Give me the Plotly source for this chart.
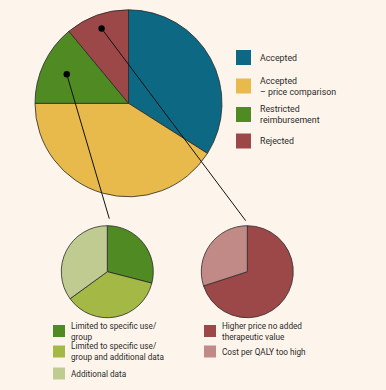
import math
import plotly.graph_objects as go

# ---------------- data ----------------
main_labels = ["Accepted", "Accepted<br>– price comparison", "Restricted<br>reimbursement", "Rejected"]
main_values = [34, 41, 14, 11]
main_colors = ["#0D6983", "#E8B94B", "#4F8A23", "#9C4848"]

restricted_labels = ["Limited to specific use/<br>group",
                     "Limited to specific use/<br>group and additional data",
                     "Additional data"]
restricted_values = [29, 36, 35]
restricted_colors = ["#4F8A23", "#A3B845", "#C0CB92"]

rejected_labels = ["Higher price no added<br>therapeutic value", "Cost per QALY too high"]
rejected_values = [70, 30]
rejected_colors = ["#9C4848", "#C18A86"]

BG = "#FDF5EC"
FONT = "Roboto, Liberation Sans, sans-serif"
W, H = 386, 390


def px(x):
    return x / W


def py(y):
    return 1 - y / H


def domain(cx, cy, r):
    return dict(x=[px(cx - r), px(cx + r)], y=[py(cy + r), py(cy - r)])


big = (128.5, 103.3, 93.5)
small_g = (107.3, 271.7, 46.0)
small_r = (247.3, 271.7, 46.0)

fig = go.Figure()
line_style = dict(color="#2a2a2a", width=0.8)
for (vals, cols, labs, geo) in [(main_values, main_colors, main_labels, big),
                                (restricted_values, restricted_colors, restricted_labels, small_g),
                                (rejected_values, rejected_colors, rejected_labels, small_r)]:
    fig.add_trace(go.Pie(values=vals, labels=labs, marker=dict(colors=cols, line=line_style),
                         sort=False, direction="clockwise", rotation=0, textinfo="none",
                         hoverinfo="label+percent", showlegend=False, domain=domain(*geo)))

shapes = []
annotations = []


# connector dots/lines computed from slice mid-angles
def slice_point(values, idx, geo, frac):
    total = sum(values)
    start = sum(values[:idx]) / total * 360
    end = sum(values[:idx + 1]) / total * 360
    mid = math.radians((start + end) / 2)
    cx, cy, r = geo
    return cx + frac * r * math.sin(mid), cy - frac * r * math.cos(mid)


for idx, frac, target, dx, gap in [(2, 0.73, small_g, 2.0, 7.0), (3, 0.85, small_r, -1.6, 5.0)]:
    x0, y0 = slice_point(main_values, idx, big, frac)
    x1, y1 = target[0] + dx, target[1] - target[2] - gap
    shapes.append(dict(type="line", xref="paper", yref="paper", x0=px(x0), y0=py(y0), x1=px(x1), y1=py(y1),
                       line=dict(color="#111", width=1)))
    rr = 3.2
    shapes.append(dict(type="circle", xref="paper", yref="paper", x0=px(x0 - rr), x1=px(x0 + rr),
                       y0=py(y0 + rr), y1=py(y0 - rr), fillcolor="#000", line=dict(width=0)))


def legend(labels, colors, x, y_centers, size, text_x, fs):
    for lab, col, yc in zip(labels, colors, y_centers):
        shapes.append(dict(type="rect", xref="paper", yref="paper", x0=px(x), x1=px(x + size),
                           y0=py(yc + size / 2), y1=py(yc - size / 2), fillcolor=col, line=dict(width=0)))
        annotations.append(dict(text=lab, xref="paper", yref="paper", x=px(text_x), y=py(yc),
                                xanchor="left", yanchor="middle", align="left", showarrow=False,
                                font=dict(family=FONT, size=fs, color="#2a2a2a")))


legend(main_labels, main_colors, 236, [57.5, 86, 114.5, 141], 15, 258, 8.8)
legend(restricted_labels, restricted_colors, 53, [331, 351.5, 373.5], 12, 68.5, 8.2)
legend(rejected_labels, rejected_colors, 204, [331, 351.5], 12, 219.5, 8.2)

fig.update_layout(width=W, height=H, margin=dict(l=0, r=0, t=0, b=0),
                  paper_bgcolor=BG, plot_bgcolor=BG, shapes=shapes, annotations=annotations,
                  showlegend=False)
fig.write_html("out.html", config={"displayModeBar": False},
               post_script="document.body.style.margin='0';document.body.style.overflow='hidden';")
